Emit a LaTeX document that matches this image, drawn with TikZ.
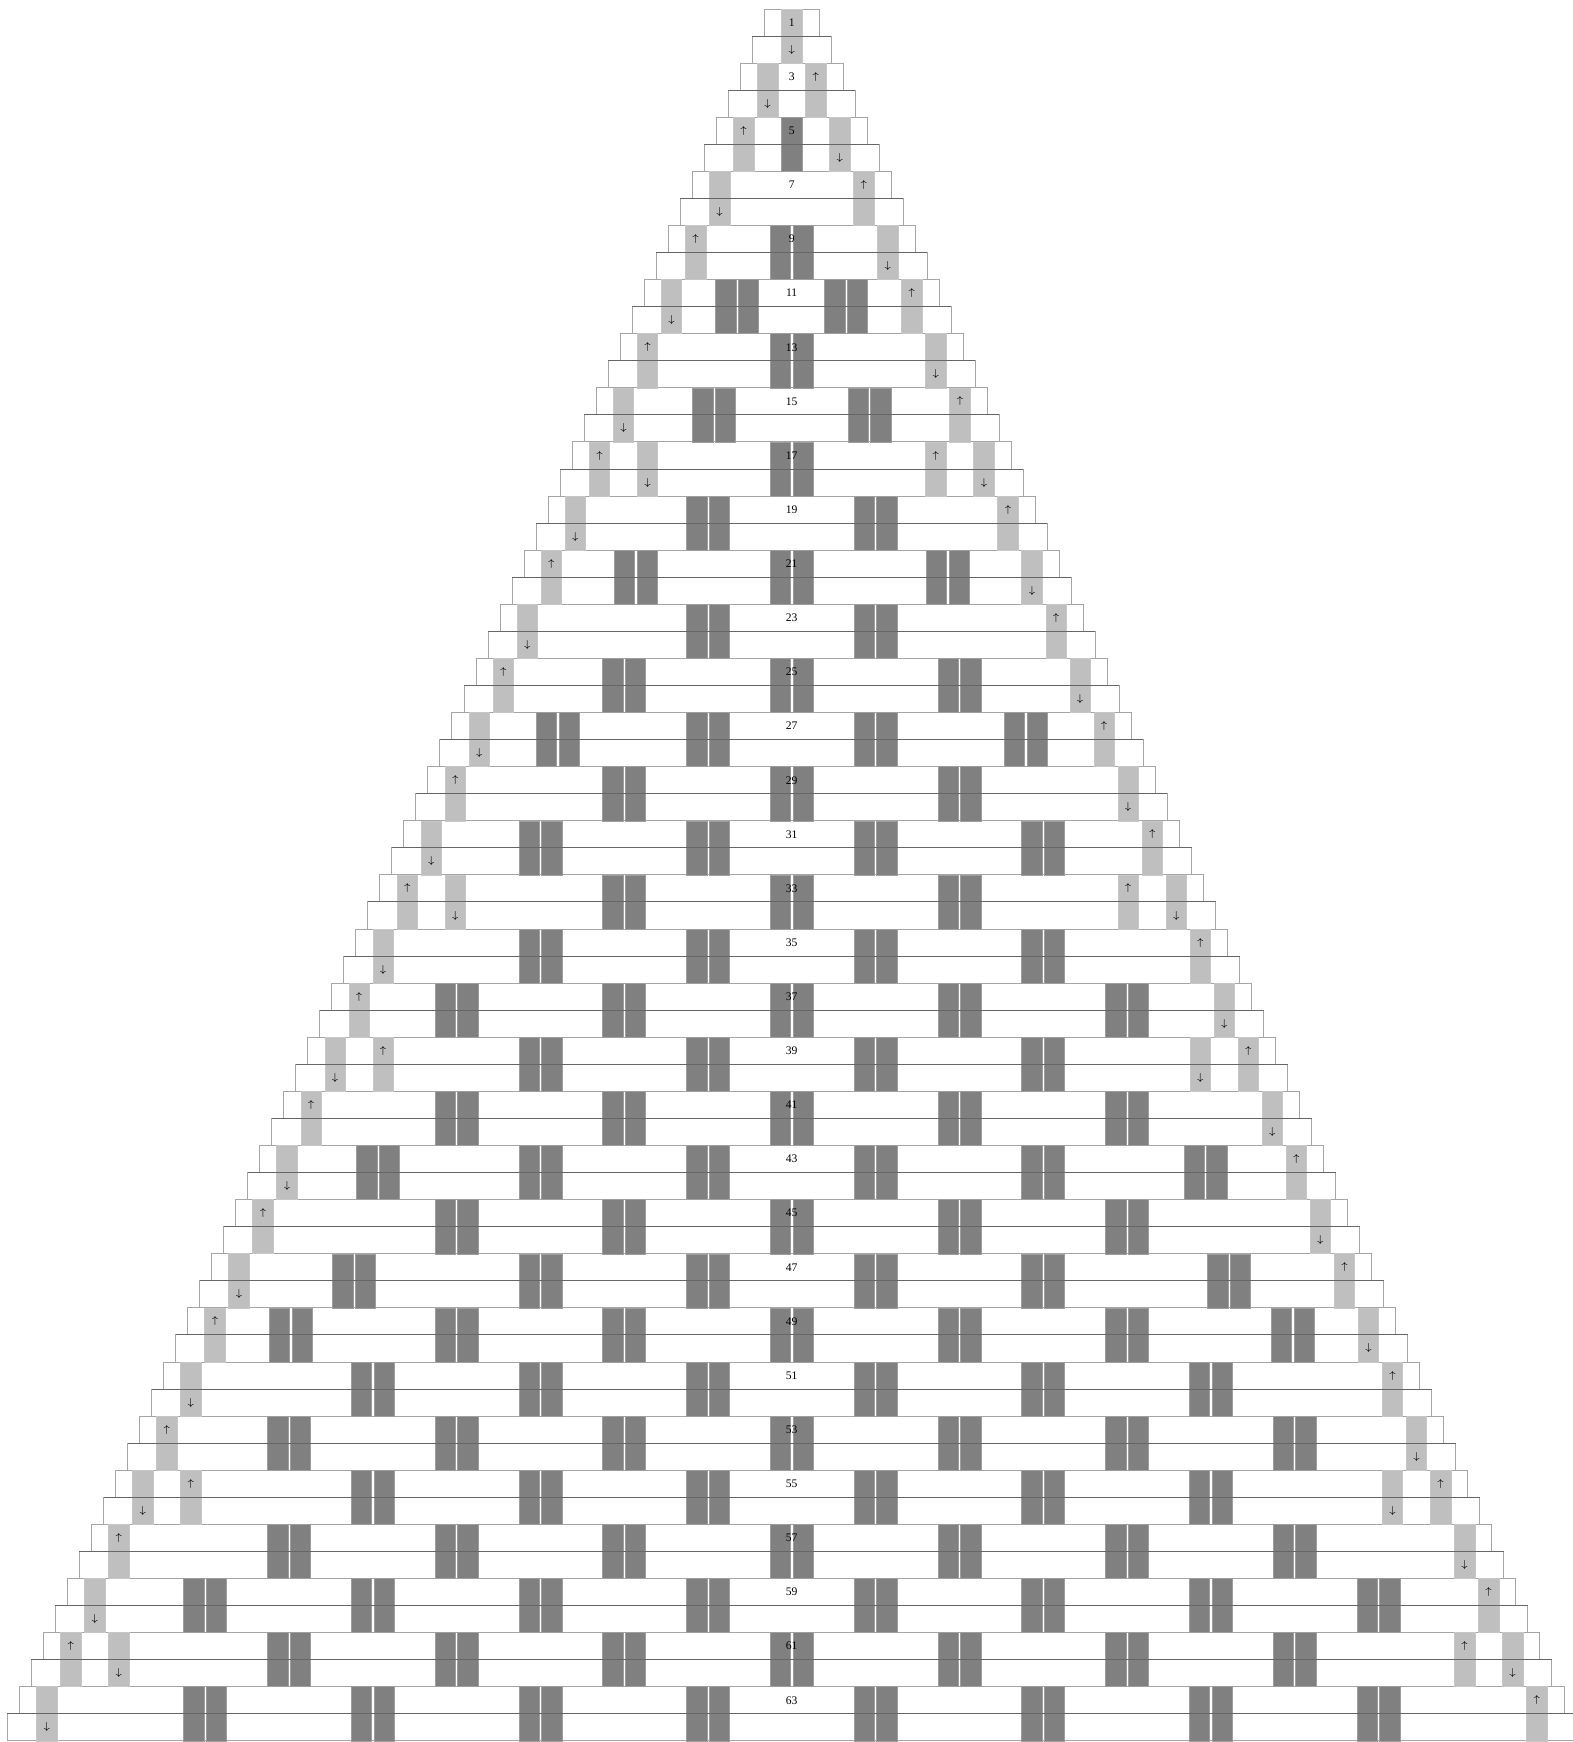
\documentclass[tikz,border=0pt]{standalone}
\usepackage{fontspec}
\setmainfont{Liberation Serif}
\usepackage{tikz}
\tikzset{
  rowbox/.style={draw=black!35, fill=white, line width=0.5pt},
  lightcell/.style={fill=black!25, draw=black!22, line width=0.3pt},
  darkcell/.style={fill=black!50, draw=black!38, line width=0.25pt},
  midline/.style={draw=black!60, line width=0.5pt},
  numlabel/.style={font=\fontsize{5.8}{6}\selectfont, inner sep=0pt},
  arrowlabel/.style={font=\fontsize{4}{5}\selectfont, inner sep=0pt}
}
\newcommand{\cx}{791.7}
\newcommand{\rh}{27.06}
\newcommand{\hstep}{12.016}
% two dark cells side by side, spanning one block (two rows)
\newcommand{\darkpair}[2]{%
  \path[darkcell] (#1-21.5,#2) rectangle (#1-1.1,#2+2*\rh);
  \path[darkcell] (#1+1.1,#2) rectangle (#1+21.5,#2+2*\rh);}
\newcommand{\graycell}[2]{%
  \path[lightcell] (#1-10.25,#2) rectangle (#1+10.25,#2+2*\rh);}

\begin{document}
\begin{tikzpicture}[x=0.5pt, y=-0.5pt]
  \useasboundingbox (0,0) rectangle (1573,1742);
  \clip (0,0) rectangle (1573,1742);

  % rows
  \foreach \n in {1,...,64} {
    \pgfmathsetmacro{\yt}{9+\rh*(\n-1)}
    \pgfmathsetmacro{\hw}{27.3+\hstep*(\n-1)}
    \path[rowbox] (\cx-\hw,\yt) rectangle (\cx+\hw,\yt+\rh);
  }

  % dark pairs, offsets from the middle
  \foreach \k/\offs in {9/{0}, 11/{54.5}, 13/{0}, 15/{77.8}, 17/{0}, 19/{83.8},
      21/{0,156}, 23/{83.8}, 25/{0,167.6}, 27/{83.8,234}, 29/{0,167.6},
      31/{83.8,251.4}, 33/{0,167.6}, 35/{83.8,251.4}, 37/{0,167.6,335.2},
      39/{83.8,251.4}, 41/{0,167.6,335.2}, 43/{83.8,251.4,413.7},
      45/{0,167.6,335.2}, 47/{83.8,251.4,437.5}, 49/{0,167.6,335.2,501},
      51/{83.8,251.4,419}, 53/{0,167.6,335.2,502.8}, 55/{83.8,251.4,419},
      57/{0,167.6,335.2,502.8}, 59/{83.8,251.4,419,586.6},
      61/{0,167.6,335.2,502.8}, 63/{83.8,251.4,419,586.6}} {
    \pgfmathsetmacro{\yt}{9+\rh*(\k-1)}
    \foreach \d in \offs {
      \darkpair{\cx-\d}{\yt}
      \darkpair{\cx+\d}{\yt}
    }
  }
  \path[darkcell] (\cx-10.25,{9+\rh*4}) rectangle (\cx+10.25,{9+\rh*6});

  % light cells at the edges
  \foreach \k in {1,3,...,63} {
    \pgfmathsetmacro{\yt}{9+\rh*(\k-1)}
    \pgfmathsetmacro{\s}{\hstep*(\k-1)}
    \graycell{\cx-\s}{\yt}
    \graycell{\cx+\s}{\yt}
  }
  \foreach \k in {17,33,39,55,61} {
    \pgfmathsetmacro{\yt}{9+\rh*(\k-1)}
    \pgfmathsetmacro{\s}{\hstep*(\k-5)}
    \graycell{\cx-\s}{\yt}
    \graycell{\cx+\s}{\yt}
  }

  % line between the two rows of a block
  \foreach \k in {1,3,...,63} {
    \pgfmathsetmacro{\yt}{9+\rh*\k}
    \pgfmathsetmacro{\hw}{27.3+\hstep*\k}
    \draw[midline] (\cx-\hw,\yt) -- (\cx+\hw,\yt);
  }

  % numbers
  \foreach \k in {1,3,...,63}
    \node[numlabel] (lbl\k) at (\cx,{9+\rh*(\k-0.5)}) {\k};

  % arrows
  \node[arrowlabel] (dn1) at (\cx,{9+\rh*1.5}) {$\downarrow$};
  \foreach \k in {3,5,...,63} {
    \pgfmathtruncatemacro{\m}{mod(\k,4)}
    \pgfmathsetmacro{\s}{\hstep*(\k-1)}
    \pgfmathsetmacro{\yu}{9+\rh*(\k-0.5)}
    \pgfmathsetmacro{\yd}{9+\rh*(\k+0.5)}
    \ifnum\m=1
      \node[arrowlabel] (upL\k) at (\cx-\s,\yu) {$\uparrow$};
      \node[arrowlabel] (dnR\k) at (\cx+\s,\yd) {$\downarrow$};
    \else
      \node[arrowlabel] (dnL\k) at (\cx-\s,\yd) {$\downarrow$};
      \node[arrowlabel] (upR\k) at (\cx+\s,\yu) {$\uparrow$};
    \fi
  }
  \foreach \k in {17,33,39,55,61} {
    \pgfmathtruncatemacro{\m}{mod(\k,4)}
    \pgfmathsetmacro{\s}{\hstep*(\k-5)}
    \pgfmathsetmacro{\yu}{9+\rh*(\k-0.5)}
    \pgfmathsetmacro{\yd}{9+\rh*(\k+0.5)}
    \ifnum\m=1
      \node[arrowlabel] (dnIL\k) at (\cx-\s,\yd) {$\downarrow$};
      \node[arrowlabel] (upIR\k) at (\cx+\s,\yu) {$\uparrow$};
    \else
      \node[arrowlabel] (upIL\k) at (\cx-\s,\yu) {$\uparrow$};
      \node[arrowlabel] (dnIR\k) at (\cx+\s,\yd) {$\downarrow$};
    \fi
  }
\end{tikzpicture}
\end{document}
